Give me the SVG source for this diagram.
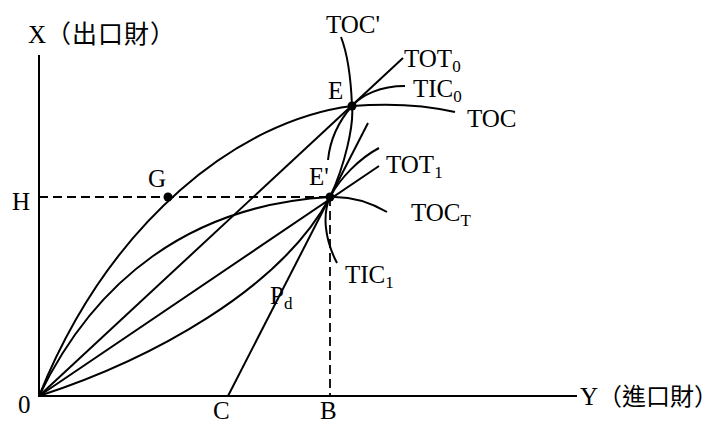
<svg xmlns="http://www.w3.org/2000/svg" width="725" height="425" viewBox="0 0 725 425">
<style>
.ln{fill:none;stroke:#000;stroke-width:2}
.ax{fill:none;stroke:#000;stroke-width:2}
.ds{fill:none;stroke:#000;stroke-width:1.8;stroke-dasharray:9,5}
.pt{fill:#000}
text{font-family:"Liberation Serif","Noto Sans CJK TC",serif;font-size:25px;fill:#000}
.cjk{font-family:"Noto Sans CJK TC",sans-serif;font-size:25px;letter-spacing:1px}
.cjk2{font-family:"Noto Sans CJK TC",sans-serif;font-size:24px}
.sub{font-size:17px}
</style>
<rect width="725" height="425" fill="#fff"/>
<g id="axes">
<line class="ax" x1="39" y1="55" x2="39" y2="397"/>
<line class="ax" x1="38" y1="396" x2="577" y2="396"/>
<text x="28" y="43">X<tspan class="cjk">（出口財）</tspan></text>
<text x="580" y="405">Y<tspan class="cjk2">（進口財）</tspan></text>
<text x="18" y="413">0</text>
</g>
<g id="connectors">
<path id="TOC" class="ln" d="M39,396 C110,220 240,120 352,106 C390,103 425,105 455,112"/>
<path id="TOCprime" class="ln" d="M39,396 C150,360 280,290 330,197 C345,165 354,125 352,106 C351,80 348,55 341,37"/>
<path id="TOCT" class="ln" d="M39,396 C95,280 190,205 330,197 C350,196 370,202 387,212"/>
<line id="TOT0" class="ln" x1="39" y1="396" x2="403" y2="58"/>
<line id="TOT1" class="ln" x1="39" y1="396" x2="379" y2="166"/>
<line id="Pd" class="ln" x1="228" y1="396" x2="368" y2="123"/>
<path id="TIC0" class="ln" d="M405,86 C380,86 362,95 352,106 C338,122 330,140 328,160"/>
<path id="TIC1" class="ln" d="M379,148 C360,158 340,178 330,197 C322,215 325,240 337,263"/>
<line class="ds" x1="39" y1="197" x2="330" y2="197"/>
<line class="ds" x1="330" y1="197" x2="330" y2="396"/>
</g>
<g id="G"><circle class="pt" cx="168" cy="197" r="4.5"/><text x="148" y="187">G</text></g>
<g id="H"><text x="12" y="210">H</text></g>
<g id="E"><circle class="pt" cx="352" cy="106" r="4.5"/><text x="328" y="99">E</text></g>
<g id="Eprime"><circle class="pt" cx="330" cy="197" r="4.5"/><text x="309" y="185">E'</text></g>
<g id="C"><text x="213" y="419">C</text></g>
<g id="B"><text x="320" y="419">B</text></g>
<g id="labels">
<text x="326" y="33">TOC'</text>
<text x="404" y="67">TOT<tspan class="sub" dy="5">0</tspan></text>
<text x="413" y="97">TIC<tspan class="sub" dy="5">0</tspan></text>
<text x="467" y="127">TOC</text>
<text x="386" y="173">TOT<tspan class="sub" dy="5">1</tspan></text>
<text x="411" y="221">TOC<tspan class="sub" dy="5">T</tspan></text>
<text x="345" y="283">TIC<tspan class="sub" dy="5">1</tspan></text>
<text x="270" y="304">P<tspan class="sub" dy="5">d</tspan></text>
</g>
</svg>
